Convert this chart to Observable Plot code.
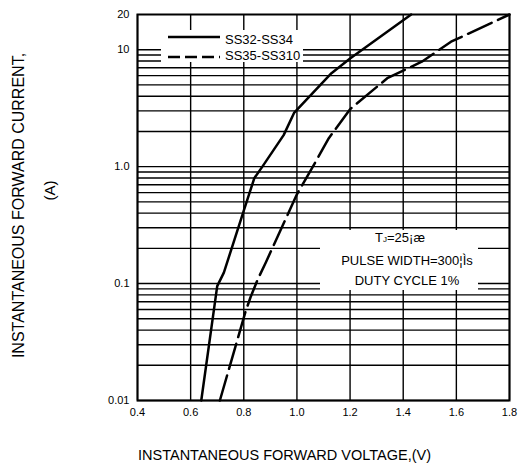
<!DOCTYPE html>
<html><head><meta charset="utf-8">
<script src="https://cdn.jsdelivr.net/npm/d3@7"></script>
<script src="https://cdn.jsdelivr.net/npm/@observablehq/plot@0.6"></script>
<style>
body{margin:0;background:#fff}
svg{font-family:"Liberation Sans",Arial,sans-serif}
</style>
</head><body><div id="chart"></div>
<script>
// SS32-SS34 (solid)
const solidVoltage = [0.64, 0.70, 0.725, 0.80, 0.84, 0.87, 0.95, 0.99, 1.13, 1.20, 1.43];
const solidCurrent = [0.01, 0.095, 0.124, 0.42, 0.80, 1.0, 1.86, 2.9, 6.3, 8.4, 20];
// SS35-SS310 (dashed)
const dashedVoltage = [0.71, 0.806, 0.825, 0.852, 0.882, 1.0, 1.06, 1.12, 1.20, 1.34, 1.47, 1.58, 1.80];
const dashedCurrent = [0.01, 0.057, 0.076, 0.108, 0.15, 0.58, 1.0, 1.75, 3.1, 5.7, 7.9, 11.7, 20];

const xTicks = [0.4, 0.6, 0.8, 1.0, 1.2, 1.4, 1.6, 1.8];
const xTickLabels = ["0.4", "0.6", "0.8", "1.0", "1.2", "1.4", "1.6", "1.8"];
const yTicks = [0.01, 0.1, 1, 10, 20];
const yTickLabels = ["0.01", "0.1", "1.0", "10", "20"];
const yGrid = [0.01,0.02,0.03,0.04,0.05,0.06,0.07,0.08,0.09,
               0.1,0.2,0.3,0.4,0.5,0.6,0.7,0.8,0.9,
               1,2,3,4,5,6,7,8,9,10];

const seriesNames = ["SS32-SS34", "SS35-SS310"];
const noteLines = ["PULSE WIDTH=300¦Ìs", "DUTY CYCLE 1%"];

const solidData = solidVoltage.map((v, i) => ({v, i: solidCurrent[i]}));
const dashedData = dashedVoltage.map((v, i) => ({v, i: dashedCurrent[i]}));

const M = {left: 137, right: 11, top: 14, bottom: 70};

const chart = Plot.plot({
  width: 520, height: 470,
  marginLeft: M.left, marginRight: M.right, marginTop: M.top, marginBottom: M.bottom,
  style: {fontFamily: '"Liberation Sans", Arial, sans-serif', color: "#000", background: "#fff"},
  x: {domain: [0.4, 1.8]},
  y: {type: "log", domain: [0.01, 20]},
  marks: [
    Plot.ruleY(yGrid, {stroke: "#000", strokeWidth: 1.4}),
    Plot.ruleX(xTicks, {stroke: "#000", strokeWidth: 1.4}),
    Plot.axisX({ticks: xTicks, tickFormat: d => xTickLabels[xTicks.indexOf(d)], tickSize: 0, tickPadding: 8, fontSize: 11, label: null}),
    Plot.axisY({ticks: yTicks, tickFormat: d => yTickLabels[yTicks.indexOf(d)], tickSize: 0, tickPadding: 8, fontSize: 11, label: null}),
    Plot.line(solidData, {x: "v", y: "i", stroke: "#000", strokeWidth: 2.5}),
    Plot.line(dashedData, {x: "v", y: "i", stroke: "#000", strokeWidth: 2.5, strokeDasharray: "26,7"}),
    Plot.frame({stroke: "#000", strokeWidth: 2}),
    Plot.text(["INSTANTANEOUS FORWARD CURRENT,"], {text: d => d, frameAnchor: "left", textAnchor: "middle", rotate: -90, dx: -119, dy: -2, fontSize: 16}),
    Plot.text(["(A)"], {text: d => d, frameAnchor: "left", textAnchor: "middle", rotate: -90, dx: -87, dy: -17, fontSize: 15}),
    Plot.text(["INSTANTANEOUS FORWARD VOLTAGE,(V)"], {text: d => d, frameAnchor: "bottom", textAnchor: "middle", dx: -39, dy: 59, fontSize: 14.5})
  ]
});
document.getElementById("chart").appendChild(chart);

const svg = d3.select(chart);
// legend
const leg = svg.append("g").attr("transform", `translate(${M.left + 24},${M.top + 16})`);
leg.append("rect").attr("width", 142).attr("height", 32).attr("fill", "#fff");
leg.append("line").attr("x1", 7).attr("x2", 59).attr("y1", 7).attr("y2", 7)
  .attr("stroke", "#000").attr("stroke-width", 2.5);
leg.append("line").attr("x1", 7).attr("x2", 59).attr("y1", 27).attr("y2", 27)
  .attr("stroke", "#000").attr("stroke-width", 2.5).attr("stroke-dasharray", "12,5");
leg.selectAll("text.s").data(seriesNames).join("text")
  .attr("x", 64).attr("y", (d, i) => 14 + i * 16)
  .attr("text-anchor", "start")
  .attr("font-size", 13).attr("fill", "#000").text(d => d);

// condition note
const note = svg.append("g").attr("transform", `translate(${M.left + 183},${M.top + 216})`);
note.append("rect").attr("width", 158).attr("height", 60).attr("fill", "#fff");
const t1 = note.append("text").attr("x", 80).attr("y", 12).attr("text-anchor", "middle").attr("font-size", 13).attr("fill", "#000");
t1.append("tspan").text("T");
t1.append("tspan").attr("font-size", 8).text("J");
t1.append("tspan").text("=25¡æ");
note.selectAll("text.n").data(noteLines).join("text")
  .attr("x", 87).attr("y", (d, i) => 35 + i * 20)
  .attr("text-anchor", "middle").attr("font-size", 13).attr("fill", "#000").text(d => d);
</script>
</body></html>
